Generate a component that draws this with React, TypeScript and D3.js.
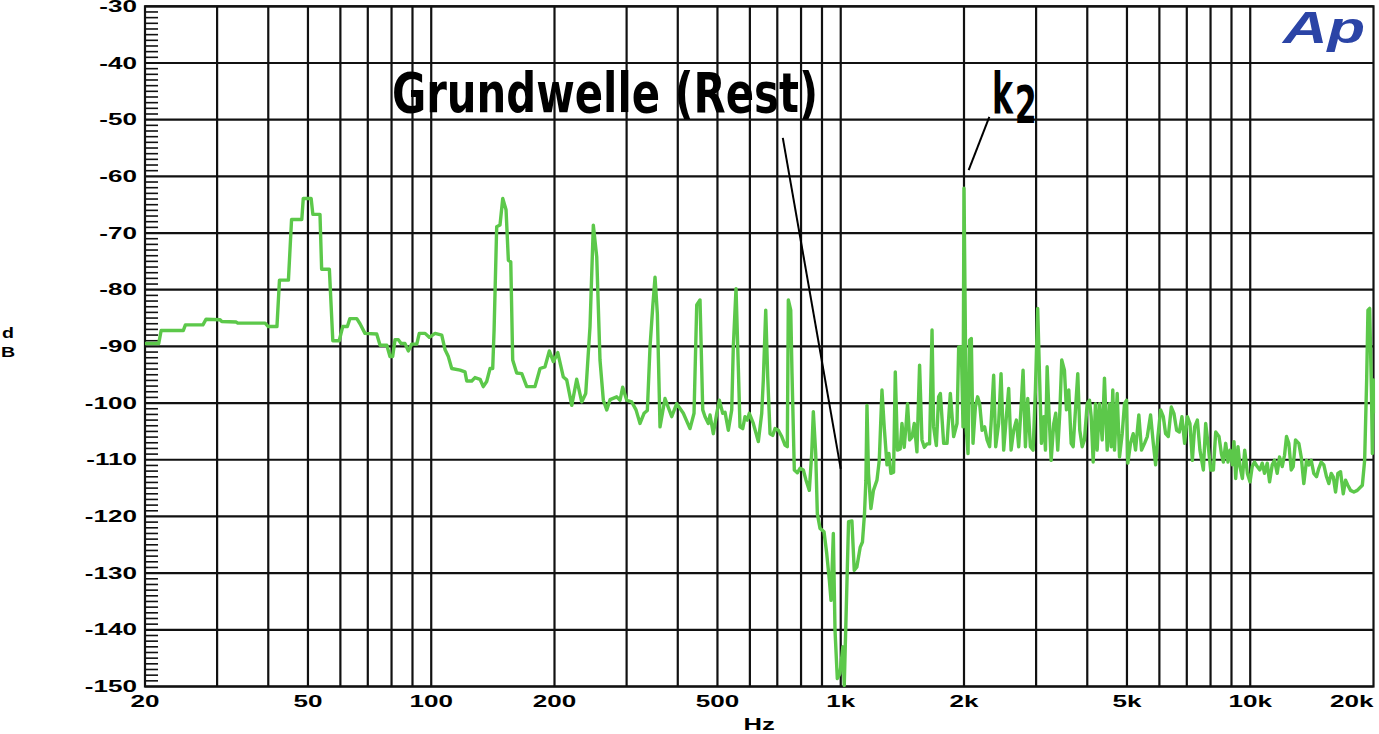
import React from 'react';
import * as d3 from 'd3';

// Spectrum trace (frequency in Hz, level in dB)
const traceHz = [
  20, 21.6, 21.9, 24.8, 25.1, 27.7, 28.2, 30.5, 30.8, 33.4, 33.7, 39.3, 40.0, 42.0, 42.6, 44.8,
  45.6, 48.3, 48.7, 50.9, 51.4, 53.5, 54.0, 56.4, 57.5, 59.6, 60.8, 62.4, 63.3, 65.8, 67.0, 68.9,
  73.6, 75.0, 77.9, 79.3, 80.5, 81.6, 83.1, 84.4, 86.3, 87.9, 89.6, 92.2, 93.5, 96.6, 98.9, 102.2,
  106.1, 108.1, 110.1, 112.2, 117.6, 120.9, 122.1, 125.6, 127.9, 131.6, 134.0, 136.6, 139.2, 141.3,
  142.4, 144.5, 147.2, 149.5, 152.3, 154.3, 156.4, 158.1, 161.7, 166.4, 171.1, 179.2, 184.4, 189.6,
  194.3, 198.7, 203.7, 210.2, 214.2, 220.4, 226.6, 233.1, 238.4, 244.2, 248.8, 253.6, 258.3, 263.2,
  268.3, 273.3, 283.8, 289.1, 293.5, 300.2, 308.8, 316.3, 323.5, 330.9, 337.1, 342.2, 347.5, 352.0,
  356.6, 362.0, 372.3, 386.6, 397.6, 412.7, 428.5, 438.3, 445.0, 453.3, 460.3, 466.3, 475.0, 479.6,
  488.5, 498.0, 505.3, 515.0, 521.7, 531.5, 541.8, 546.6, 555.0, 562.2, 567.6, 576.3, 583.8, 591.4,
  598.1, 611.7, 629.2, 641.3, 647.1, 655.9, 663.3, 672.0, 682.2, 691.1, 704.1, 717.7, 731.1, 740.6,
  744.8, 754.9, 760.4, 770.3, 783.4, 795.4, 810.3, 822.7, 838.1, 849.5, 857.2, 868.8, 876.7, 890.1,
  910.3, 924.2, 937.9, 946.9, 959.3, 968.4, 981.0, 996, 1012, 1020, 1036, 1045, 1065, 1079, 1095,
  1116, 1130, 1143, 1152, 1159, 1169, 1185, 1202, 1226, 1242, 1261, 1277, 1297, 1311, 1326, 1346,
  1359, 1376, 1397, 1411, 1429, 1445, 1456, 1473, 1493, 1512, 1535, 1558, 1579, 1600, 1624, 1648,
  1671, 1686, 1712, 1734, 1751, 1784, 1818, 1852, 1887, 1923, 1941, 1970, 1989, 2000, 2026, 2046,
  2064, 2084, 2104, 2132, 2159, 2184, 2214, 2246, 2277, 2310, 2329, 2363, 2390, 2430, 2463, 2500,
  2538, 2571, 2606, 2645, 2685, 2720, 2757, 2788, 2825, 2862, 2905, 2950, 2988, 3027, 3062, 3091,
  3131, 3162, 3192, 3228, 3265, 3313, 3350, 3388, 3427, 3465, 3518, 3558, 3605, 3654, 3695, 3743,
  3792, 3835, 3887, 3937, 3998, 4050, 4089, 4135, 4189, 4229, 4284, 4350, 4406, 4474, 4532, 4576,
  4617, 4662, 4733, 4795, 4868, 4932, 4988, 5024, 5101, 5179, 5247, 5345, 5427, 5520, 5605, 5710,
  5798, 5874, 5950, 6041, 6134, 6214, 6309, 6416, 6511, 6611, 6712, 6811, 6915, 7021, 7125, 7222,
  7316, 7428, 7537, 7684, 7784, 7885, 8006, 8129, 8235, 8389, 8503, 8600, 8711, 8825, 8925, 9046,
  9128, 9215, 9335, 9441, 9569, 9694, 9842, 9990, 10113, 10245, 10402, 10554, 10698, 10837, 11004,
  11148, 11317, 11464, 11639, 11791, 11971, 12127, 12264, 12423, 12592, 12734, 12900, 13141, 13320,
  13516, 13723, 13902, 14090, 14298, 14516, 14706, 14906, 15126, 15358, 15558, 15770, 15949, 16157,
  16367, 16617, 16872, 17092, 17315, 17580, 17911, 18258, 18784, 19029, 19245, 19386, 19573, 19761,
  19873, 19985, 20000,
];

const traceDb = [
  -89.5, -89.5, -87.2, -87.2, -86.2, -86.2, -85.2, -85.3, -85.6, -85.7, -85.9, -85.9, -86.5, -86.5, -78.3, -78.3,
  -67.6, -67.6, -63.9, -63.9, -66.7, -66.7, -76.4, -76.4, -89.0, -89.0, -86.5, -86.5, -85.1, -85.1, -86.0, -87.7,
  -87.8, -89.8, -89.8, -91.8, -91.8, -88.8, -88.8, -89.5, -89.5, -90.8, -89.6, -89.6, -87.7, -87.7, -88.4, -87.7,
  -88.0, -90.6, -91.8, -93.9, -94.2, -94.5, -96.1, -96.1, -95.5, -95.8, -97.1, -96.2, -93.9, -93.9,
  -87.1, -68.9, -68.6, -63.9, -65.9, -74.8, -75.1, -92.4, -94.7, -94.8, -97.1, -97.1, -93.9, -93.6,
  -90.8, -92.7, -91.1, -95.4, -95.9, -100.4, -95.8, -99.8, -98.3, -86.5, -68.6, -74.2, -92.4, -99.5,
  -101.2, -99.4, -98.9, -99.5, -97.2, -99.5, -99.8, -101.2, -103.6, -101.8, -101.3, -90.1, -83.0, -77.8,
  -84.2, -104.2, -99.2, -102.4, -100.1, -101.8, -104.5, -101.8, -82.7, -81.8, -101.2, -102.4, -103.6, -102.1,
  -105.4, -101.8, -99.5, -101.8, -101.6, -104.8, -101.2, -90.1, -79.8, -93.6, -104.2, -104.5, -102.4, -103.0,
  -101.8, -103.6, -106.8, -101.8, -95.9, -83.6, -95.4, -105.4, -105.7, -104.5, -104.8, -105.9, -107.4, -107.7,
  -81.8, -83.6, -94.8, -111.8, -112.3, -111.5, -111.8, -113.6, -115.4, -108.9, -101.5, -108.9, -119.5, -122.1,
  -122.7, -126.5, -131.2, -134.8, -123.0, -140.1, -148.6, -147.7, -143.0, -149.8, -131.2, -120.9, -120.8, -129.5, -128.9,
  -125.4, -124.5, -119.5, -113.6, -100.4, -112.4, -118.6, -115.4, -113.6, -110.1, -97.7, -104.2, -110.9, -108.9, -112.4,
  -112.2, -94.5, -108.3, -108.1, -103.6, -107.8, -103.6, -100.1, -106.5, -106.0, -103.6, -108.6, -93.3, -106.5, -107.8, -107.2, -107.2,
  -87.1, -104.2, -107.5, -98.9, -98.3, -107.1, -107.1, -98.3, -105.9, -103.6, -90.1, -90.1, -104.2, -62.1, -104.8, -108.9,
  -88.9, -88.6, -107.1, -100.7, -98.9, -100.1, -104.8, -104.2, -106.5, -107.7, -103.6, -95.1, -107.7, -103.6, -94.8, -108.3,
  -102.4, -97.4, -108.3, -104.8, -103.0, -107.7, -100.7, -94.2, -107.7, -99.2, -107.7, -108.3, -97.7, -83.3, -96.5, -107.1,
  -102.4, -108.3, -93.6, -102.4, -110.1, -103.6, -101.8, -108.3, -101.8, -92.4, -94.2, -101.2, -97.7, -107.1, -107.7, -101.2,
  -94.8, -104.8, -107.7, -106.5, -100.1, -99.5, -102.4, -110.4, -100.1, -108.3, -100.1, -106.5, -95.6, -108.3, -100.1, -107.7,
  -97.7, -108.3, -98.3, -109.5, -105.4, -100.1, -99.5, -110.6, -107.1, -105.4, -108.3, -102.1, -108.3, -107.1, -105.9, -102.1,
  -107.1, -110.9, -105.9, -101.2, -102.4, -105.4, -105.9, -100.7, -101.8, -104.8, -105.1, -102.4, -107.1, -102.4, -103.6, -110.1,
  -104.2, -103.0, -108.3, -111.8, -103.6, -107.1, -111.8, -111.8, -105.1, -105.9, -108.9, -110.4, -107.1, -110.4, -108.3, -110.9,
  -106.8, -113.3, -107.7, -111.2, -113.3, -108.3, -112.4, -113.9, -111.2, -110.4, -111.2, -111.8, -110.6, -112.4, -110.6,
  -113.9, -110.9, -110.1, -112.4, -109.5, -111.2, -109.2, -105.9, -107.1, -111.8, -111.2, -106.5, -107.1, -109.5,
  -114.2, -110.1, -110.9, -110.1, -112.4, -113.0, -111.5, -110.4, -110.9, -113.0, -114.2, -112.4, -113.0, -115.7,
  -112.4, -112.1, -116.0, -113.6, -114.5, -115.4, -115.7, -115.4, -114.5, -110.1, -95.9, -83.6, -83.3, -97.1,
  -108.9, -95.9, -101.8,
];

// Axes
const yTickDb = [-30, -40, -50, -60, -70, -80, -90, -100, -110, -120, -130, -140, -150];
const xTickHz = [20, 50, 100, 200, 500, 1000, 2000, 5000, 10000, 20000];
const xTickLabels = ['20', '50', '100', '200', '500', '1k', '2k', '5k', '10k', '20k'];
const gridHz = [30, 40, 50, 60, 70, 80, 90, 100, 200, 300, 400, 500, 600, 700, 800, 900,
  1000, 2000, 3000, 4000, 5000, 6000, 7000, 8000, 9000, 10000];

// Annotations: [Hz, dB]
const grundLabelPos = [80.2, -48.6];
const grundPointer = [[722, -53.2], [1000, -111.6]];
const k2LabelPos = [2340, -48.9];
const k2SubPos = [2660, -50.65];
const k2Pointer = [[2306, -49.5], [2053, -58.9]];

export default function App() {
  const W = 1379, H = 734;
  const left = 145, right = 1373.5, top = 6.3, bottom = 686.5;
  const x = d3.scaleLog().domain([20, 20000]).range([left, right]);
  const y = d3.scaleLinear().domain([-30, -150]).range([top, bottom]);
  const pts = traceHz.map((h, i) => [h, traceDb[i]] as [number, number]);
  const line = d3.line<[number, number]>().x(d => x(d[0])).y(d => y(d[1]));
  const minor = d3.range(-149, -30).filter(v => v % 10 !== 0);
  const tickFont = "'Liberation Sans', Arial, Helvetica, sans-serif";
  const bigFont = "'Liberation Sans Narrow', 'DejaVu Sans Condensed', 'Arial Narrow', sans-serif";
  const gridColor = '#111';

  return (
    <svg width={W} height={H} style={{ position: 'absolute', left: 0, top: 0, background: '#fff' }}>
      <defs>
        <clipPath id="plotclip">
          <rect x={left} y={top - 2} width={right - left + 2} height={bottom - top + 4} />
        </clipPath>
      </defs>
      <rect x={0} y={0} width={W} height={H} fill="#fff" />
      {/* grid */}
      {gridHz.map(h => (
        <line key={'v' + h} x1={x(h)} x2={x(h)} y1={top} y2={bottom} stroke={gridColor} strokeWidth={2.2} />
      ))}
      {yTickDb.map(v => (
        <line key={'h' + v} x1={left} x2={right} y1={y(v)} y2={y(v)} stroke={gridColor} strokeWidth={2.2} />
      ))}
      {minor.map(v => (
        <line key={'m' + v} x1={left} x2={left + 13} y1={y(v)} y2={y(v)} stroke={gridColor} strokeWidth={1.6} />
      ))}
      <rect x={left} y={top} width={right - left} height={bottom - top} fill="none" stroke={gridColor} strokeWidth={2.2} />

      {/* trace */}
      <path d={line(pts) || ''} fill="none" stroke="#5cc84a" strokeWidth={3.4} strokeLinejoin="round" clipPath="url(#plotclip)" />

      {/* annotations */}
      <line x1={x(grundPointer[0][0])} y1={y(grundPointer[0][1])} x2={x(grundPointer[1][0])} y2={y(grundPointer[1][1])} stroke="#000" strokeWidth={2} />
      <line x1={x(k2Pointer[0][0])} y1={y(k2Pointer[0][1])} x2={x(k2Pointer[1][0])} y2={y(k2Pointer[1][1])} stroke="#000" strokeWidth={2} />
      <text x={x(grundLabelPos[0])} y={y(grundLabelPos[1])} fontFamily={bigFont} fontWeight={700} fontSize={56}
        textLength={426} lengthAdjust="spacingAndGlyphs" fill="#000">Grundwelle (Rest)</text>
      <text x={x(k2LabelPos[0])} y={y(k2LabelPos[1])} fontFamily={bigFont} fontWeight={700} fontSize={57}
        textLength={21} lengthAdjust="spacingAndGlyphs" fill="#000">k</text>
      <text x={x(k2SubPos[0])} y={y(k2SubPos[1])} fontFamily={bigFont} fontWeight={700} fontSize={52}
        textLength={22} lengthAdjust="spacingAndGlyphs" fill="#000">2</text>

      {/* y labels */}
      {yTickDb.map(v => (
        <text key={'yl' + v} transform={`translate(137,${y(v) + 5.6}) scale(1.6,1)`} textAnchor="end"
          fontFamily={tickFont} fontWeight={700} fontSize={16.3} fill="#000">{v}</text>
      ))}
      {/* x labels */}
      {xTickHz.map((h, i) => {
        const last = i === xTickHz.length - 1;
        return (
          <text key={'xl' + h} transform={`translate(${last ? right : x(h)},707) scale(1.6,1)`}
            textAnchor={last ? 'end' : 'middle'} fontFamily={tickFont} fontWeight={700} fontSize={16.3} fill="#000">
            {xTickLabels[i]}
          </text>
        );
      })}
      <text transform={`translate(${(left + right) / 2},730) scale(1.6,1)`} textAnchor="middle"
        fontFamily={tickFont} fontWeight={700} fontSize={16} fill="#000">Hz</text>
      <text transform="translate(8,338) scale(1.4,1)" textAnchor="middle" fontFamily={tickFont} fontWeight={700} fontSize={14} fill="#000">d</text>
      <text transform="translate(8,357) scale(1.4,1)" textAnchor="middle" fontFamily={tickFont} fontWeight={700} fontSize={14} fill="#000">B</text>

      {/* AP logo */}
      <text x={1283} y={43} fontFamily={tickFont} fontStyle="italic" fontWeight={700} fontSize={44}
        textLength={82} lengthAdjust="spacingAndGlyphs" fill="#2b44a6">Ap</text>
    </svg>
  );
}
